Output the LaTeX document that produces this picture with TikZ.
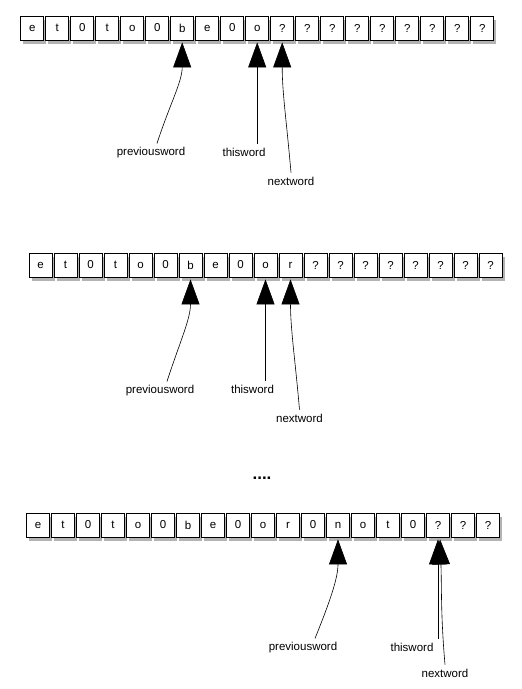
\documentclass[tikz,border=0pt]{standalone}
\usepackage{fontspec}
\setmainfont{Liberation Sans}
\usetikzlibrary{arrows.meta, positioning, shadows}

\tikzset{
  cell/.style={draw, thick, fill=white, minimum width=23pt, minimum height=24pt,
               inner sep=0pt, font=\fontsize{11.5}{13}\selectfont,
               drop shadow={opacity=0.6, shadow xshift=2.5pt, shadow yshift=-4pt}},
  word/.style={inner sep=4pt, font=\fontsize{11.5}{13}\selectfont},
  pointer/.style={-{Triangle[length=25pt,width=18pt]}, semithick, shorten >=2pt}
}

\begin{document}
\begin{tikzpicture}[x=1pt, y=-1pt]
  \useasboundingbox (0,0) rectangle (522,689);

  % first state
  \foreach \ch [count=\i from 0] in {e,t,0,t,o,0,b,e,0,o,?,?,?,?,?,?,?,?,?}
    \node[cell] (r1c\i) at (32.2+25*\i, 28) {\ch};

  \node[word] (prev1) at (151,153) {previousword};
  \node[word] (this1) at (244,152) {thisword};
  \node[word] (next1) at (291,181) {nextword};

  \draw[pointer] ([xshift=6pt]prev1.north) to[out=72,in=-90] (r1c6.south);
  \draw[pointer] (this1.north -| r1c9) -- (r1c9.south);
  \draw[pointer] (next1.north) to[out=95,in=-90] (r1c10.south);

  % second state
  \foreach \ch [count=\i from 0] in {e,t,0,t,o,0,b,e,0,o,r,?,?,?,?,?,?,?,?}
    \node[cell] (r2c\i) at (40.5+25*\i, 265) {\ch};

  \node[word] (prev2) at (160,391) {previousword};
  \node[word] (this2) at (252.5,389) {thisword};
  \node[word] (next2) at (299.5,418) {nextword};

  \draw[pointer] ([xshift=7pt]prev2.north) to[out=72,in=-90] (r2c6.south);
  \draw[pointer] (this2.north -| r2c9) -- (r2c9.south);
  \draw[pointer] (next2.north) to[out=95,in=-90] (r2c10.south);

  \node[font=\bfseries\fontsize{17}{18}\selectfont] (dots) at (262,478) {....};

  % last state
  \foreach \ch [count=\i from 0] in {e,t,0,t,o,0,b,e,0,o,r,0,n,o,t,0,?,?,?}
    \node[cell] (r3c\i) at (38+25*\i, 525) {\ch};

  \node[word] (prev3) at (303,648) {previousword};
  \node[word] (this3) at (412,647) {thisword};
  \node[word] (next3) at (445,673) {nextword};

  \draw[pointer] ([xshift=12pt]prev3.north) to[out=68,in=-90] (r3c12.south);
  \draw[pointer] (this3.north -| r3c16) -- (r3c16.south);
  \draw[pointer] (next3.north) to[out=95,in=-88] ([xshift=2pt]r3c16.south);

\end{tikzpicture}
\end{document}
